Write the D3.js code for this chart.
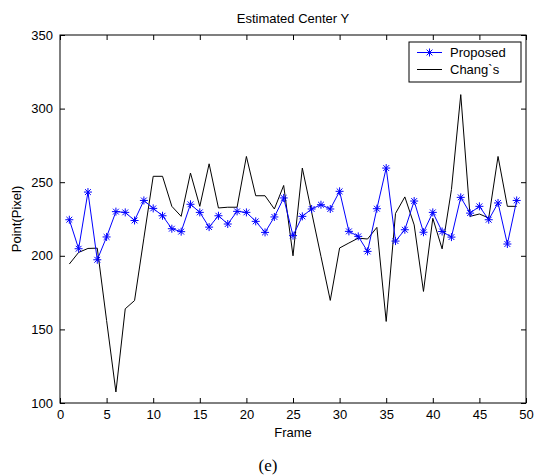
<!DOCTYPE html>
<meta charset="utf-8">
<script src="https://d3js.org/d3.v7.min.js"></script>
<style>
body {
    margin:0;
    background:#fff;
    overflow:hidden;
}
text {
    font-family:'Liberation Sans', Arial, sans-serif;
}
</style>
<svg width="534" height="476"></svg>
<script>

var frames = [1,2,3,4,5,6,7,8,9,10,11,12,13,14,15,16,17,18,19,20,21,22,23,24,25,
    26,27,28,29,30,31,32,33,34,35,36,37,38,39,40,41,42,43,44,45,46,47,48,49];

var proposed = [224.5,204.8,243.3,197.3,212.8,230,229.5,224,237.6,232.2,
    227.2,218.4,216.4,235,229.5,219.5,227.2,221.6,230.2,229.5,
    223.4,215.9,226.4,239.3,213.7,226.8,231.8,234.7,231.8,243.8,
    216.6,213.2,203,232,259.6,210,217.7,237.2,216,229.5,
    216.5,212.7,239.7,229,233.6,224.5,235.9,208,237.6];

var chang = [194.4,202.3,205,205.2,156,107.5,164,169.6,212,254,
    254,233.6,226.8,256.2,233.6,262.5,232.5,233,233,267.5,
    240.8,240.8,231.8,247.8,200,259.6,229.6,199.6,169.7,205.3,
    208.7,212,211.4,219.3,155.4,228.8,240,221,175.8,225.5,
    204.7,245,309.5,226.8,228.4,225.7,267.5,233.6,233.6];

var xTicks = [0,5,10,15,20,25,30,35,40,45,50];
var yTicks = [100,150,200,250,300,350];
var seriesNames = ['Proposed', 'Chang`s'];

// plot box ("top" is taken by window.top, so prefixed names)
var pLeft = 60, pRight = 526, pTop = 35, pBottom = 403;

var svg = d3.select('svg')

var x = d3.scaleLinear().domain([0, 50]).range([pLeft, pRight])
var y = d3.scaleLinear().domain([100, 350]).range([pBottom, pTop])

// axes with ticks pointing inwards, matlab style
svg.append('g')
    .attr('transform', 'translate(0,' + pBottom + ')')
    .call(d3.axisBottom(x).tickValues(xTicks).tickSizeInner(-5).tickSizeOuter(0).tickPadding(7))
svg.append('g')
    .attr('transform', 'translate(' + pLeft + ',0)')
    .call(d3.axisLeft(y).tickValues(yTicks).tickSizeInner(-5).tickSizeOuter(0).tickPadding(7))
svg.append('g')
    .attr('transform', 'translate(0,' + pTop + ')')
    .call(d3.axisTop(x).tickValues(xTicks).tickSizeInner(-5).tickSizeOuter(0).tickFormat(''))
svg.append('g')
    .attr('transform', 'translate(' + pRight + ',0)')
    .call(d3.axisRight(y).tickValues(yTicks).tickSizeInner(-5).tickSizeOuter(0).tickFormat(''))

svg.selectAll('.domain').remove()
svg.selectAll('.tick line').attr('stroke', '#000')
svg.selectAll('.tick text')
    .attr('font-size', 13)
    .attr('fill', '#000')
    .attr('font-family', "'Liberation Sans', Arial, sans-serif")

svg.append('rect')
    .attr('x', pLeft)
    .attr('y', pTop)
    .attr('width', pRight - pLeft)
    .attr('height', pBottom - pTop)
    .attr('fill', 'none')
    .attr('stroke', '#000')
    .attr('stroke-width', 1)

var line = d3.line()
    .x(function(d, i) { return x(frames[i]) })
    .y(function(d) { return y(d) })

svg.append('path')
    .datum(chang)
    .attr('d', line)
    .attr('fill', 'none')
    .attr('stroke', '#000')
    .attr('stroke-width', 1)

svg.append('path')
    .datum(proposed)
    .attr('d', line)
    .attr('fill', 'none')
    .attr('stroke', '#0000ff')
    .attr('stroke-width', 1)

function star(cx, cy) {
    var r = 4, d = 2.9
    return 'M' + (cx - r) + ',' + cy + 'H' + (cx + r) +
        'M' + cx + ',' + (cy - r) + 'V' + (cy + r) +
        'M' + (cx - d) + ',' + (cy - d) + 'L' + (cx + d) + ',' + (cy + d) +
        'M' + (cx - d) + ',' + (cy + d) + 'L' + (cx + d) + ',' + (cy - d)
}

svg.append('g')
    .selectAll('path')
    .data(proposed)
    .enter().append('path')
    .attr('d', function(d, i) { return star(x(frames[i]), y(d)) })
    .attr('stroke', '#0000ff')
    .attr('stroke-width', 1)
    .attr('fill', 'none')

// titles
svg.append('text')
    .attr('x', (pLeft + pRight) / 2)
    .attr('y', 23)
    .attr('text-anchor', 'middle')
    .attr('font-size', 13)
    .text('Estimated Center Y')
svg.append('text')
    .attr('x', (pLeft + pRight) / 2)
    .attr('y', 437)
    .attr('text-anchor', 'middle')
    .attr('font-size', 13)
    .text('Frame')
svg.append('text')
    .attr('transform', 'translate(21,' + (pTop + pBottom) / 2 + ') rotate(-90)')
    .attr('text-anchor', 'middle')
    .attr('font-size', 13)
    .text('Point(Pixel)')
svg.append('text')
    .attr('x', 268)
    .attr('y', 471)
    .attr('text-anchor', 'middle')
    .attr('font-size', 17)
    .style('font-family', "'Liberation Serif', 'Times New Roman', serif")
    .text('(e)')

// legend
var legend = svg.append('g')
legend.append('rect')
    .attr('x', 409)
    .attr('y', 42)
    .attr('width', 112)
    .attr('height', 40)
    .attr('fill', '#fff')
    .attr('stroke', '#000')
    .attr('stroke-width', 1)
var rows = [52.5, 69.5]
var legColors = ['#0000ff', '#000']
rows.forEach(function(ry, i) {
    legend.append('line')
        .attr('x1', 417).attr('x2', 442)
        .attr('y1', ry).attr('y2', ry)
        .attr('stroke', legColors[i])
        .attr('stroke-width', 1)
    if (i === 0) {
        legend.append('path')
            .attr('d', star(429.5, ry))
            .attr('stroke', legColors[i])
            .attr('fill', 'none')
    }
    legend.append('text')
        .attr('x', 450)
        .attr('y', ry + 4.5)
        .attr('font-size', 13)
        .text(seriesNames[i])
})

</script>
